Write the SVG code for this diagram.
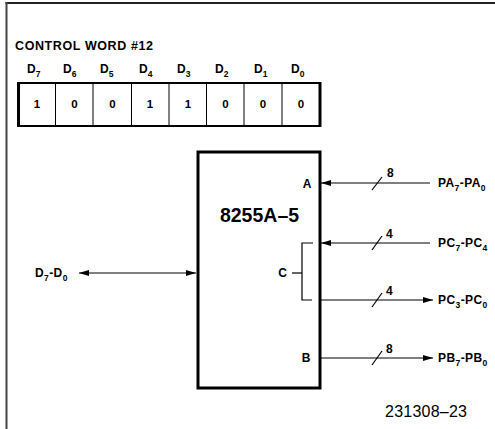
<svg xmlns="http://www.w3.org/2000/svg" width="495" height="429" viewBox="0 0 495 429">
<style>
  text { font-family: "Liberation Sans", Arial, Helvetica, sans-serif; fill: #000; }
  .b { font-weight: bold; }
  .lbl { font-size: 12px; font-weight: bold; letter-spacing: 0.4px; }
  .sub { font-size: 8.5px; }
  .dig { font-size: 11.5px; font-weight: bold; text-anchor: middle; }
  .hd { font-size: 12px; font-weight: bold; }
  .ln { stroke: #000; stroke-width: 1.2; fill: none; }
  .thin { stroke: #000; stroke-width: 1; fill: none; }
</style>
<defs>
  <marker id="ah" viewBox="0 0 10 6" refX="10" refY="3" markerWidth="10" markerHeight="6" markerUnits="userSpaceOnUse" orient="auto-start-reverse">
    <path d="M0,0 L10,3 L0,6 Z" fill="#000"/>
  </marker>
</defs>
<rect width="495" height="429" fill="#fff"/>
<g id="frame">
  <line x1="5.5" y1="3" x2="495" y2="3" stroke="#222" stroke-width="2"/>
  <line x1="6.5" y1="2" x2="6.5" y2="429" stroke="#444" stroke-width="2"/>
</g>
<g id="control-word">
  <text x="15" y="50" class="b" font-size="12.5" textLength="138" lengthAdjust="spacing">CONTROL WORD #12</text>
  <g class="hd">
    <text x="27" y="73">D<tspan class="sub" dy="3.5">7</tspan></text>
    <text x="63" y="73">D<tspan class="sub" dy="3.5">6</tspan></text>
    <text x="100" y="73">D<tspan class="sub" dy="3.5">5</tspan></text>
    <text x="139" y="73">D<tspan class="sub" dy="3.5">4</tspan></text>
    <text x="177" y="73">D<tspan class="sub" dy="3.5">3</tspan></text>
    <text x="215" y="73">D<tspan class="sub" dy="3.5">2</tspan></text>
    <text x="254" y="73">D<tspan class="sub" dy="3.5">1</tspan></text>
    <text x="291" y="73">D<tspan class="sub" dy="3.5">0</tspan></text>
  </g>
  <rect x="18.5" y="83" width="301.5" height="43" fill="none" stroke="#000" stroke-width="2"/>
  <line x1="18.5" y1="82" x2="18.5" y2="127" stroke="#000" stroke-width="3"/>
  <line x1="320" y1="82" x2="320" y2="127" stroke="#000" stroke-width="3"/>
  <g class="thin">
    <line x1="55.5" y1="83" x2="55.5" y2="126"/>
    <line x1="93" y1="83" x2="93" y2="126"/>
    <line x1="131.5" y1="83" x2="131.5" y2="126"/>
    <line x1="169" y1="83" x2="169" y2="126"/>
    <line x1="206.5" y1="83" x2="206.5" y2="126"/>
    <line x1="244" y1="83" x2="244" y2="126"/>
    <line x1="282" y1="83" x2="282" y2="126"/>
  </g>
  <g class="dig">
    <text x="37" y="107.5">1</text>
    <text x="74.5" y="107.5">0</text>
    <text x="112.5" y="107.5">0</text>
    <text x="150" y="107.5">1</text>
    <text x="188" y="107.5">1</text>
    <text x="225.5" y="107.5">0</text>
    <text x="263" y="107.5">0</text>
    <text x="301" y="107.5">0</text>
  </g>
</g>
<g id="chip-8255A-5">
  <rect x="198" y="152" width="122" height="236" fill="none" stroke="#000" stroke-width="3"/>
  <text x="259.5" y="222" class="b" font-size="19.5" text-anchor="middle">8255A–5</text>
  <text x="307" y="188" class="b" font-size="12" text-anchor="middle">A</text>
  <text x="282.5" y="277" class="b" font-size="12" text-anchor="middle">C</text>
  <text x="306" y="362" class="b" font-size="12" text-anchor="middle">B</text>
</g>
<g id="connectors">
  <line class="ln" x1="430" y1="183" x2="321" y2="183" marker-end="url(#ah)"/>
  <line class="ln" x1="430" y1="243" x2="321" y2="243" marker-end="url(#ah)"/>
  <line class="ln" x1="320" y1="300" x2="433" y2="300" marker-end="url(#ah)"/>
  <line class="ln" x1="320" y1="358" x2="433" y2="358" marker-end="url(#ah)"/>
  <line class="ln" x1="79" y1="273" x2="196" y2="273" marker-start="url(#ah)" marker-end="url(#ah)"/>
  <polyline class="ln" points="313,243 302,243 302,300 312,300"/>
  <line class="ln" x1="292" y1="273" x2="302" y2="273"/>
  <g class="ln">
    <line x1="372" y1="190" x2="382" y2="177"/>
    <line x1="372" y1="250" x2="382" y2="236"/>
    <line x1="372" y1="307" x2="382" y2="293"/>
    <line x1="372" y1="365" x2="382" y2="351"/>
  </g>
</g>
<g id="labels">
  <text x="387" y="177" class="b" font-size="12">8</text>
  <text x="386" y="238" class="b" font-size="12">4</text>
  <text x="386" y="295" class="b" font-size="12">4</text>
  <text x="386" y="353" class="b" font-size="12">8</text>
  <text x="438" y="187" class="lbl">PA<tspan class="sub" dy="3.5">7</tspan><tspan dy="-3.5">-PA</tspan><tspan class="sub" dy="3.5">0</tspan></text>
  <text x="438" y="247" class="lbl">PC<tspan class="sub" dy="3.5">7</tspan><tspan dy="-3.5">-PC</tspan><tspan class="sub" dy="3.5">4</tspan></text>
  <text x="438" y="304" class="lbl">PC<tspan class="sub" dy="3.5">3</tspan><tspan dy="-3.5">-PC</tspan><tspan class="sub" dy="3.5">0</tspan></text>
  <text x="438" y="362" class="lbl">PB<tspan class="sub" dy="3.5">7</tspan><tspan dy="-3.5">-PB</tspan><tspan class="sub" dy="3.5">0</tspan></text>
  <text x="35" y="277" class="lbl">D<tspan class="sub" dy="3.5">7</tspan><tspan dy="-3.5">-D</tspan><tspan class="sub" dy="3.5">0</tspan></text>
  <text x="385" y="417" font-size="16" textLength="82" lengthAdjust="spacing">231308–23</text>
</g>
</svg>
